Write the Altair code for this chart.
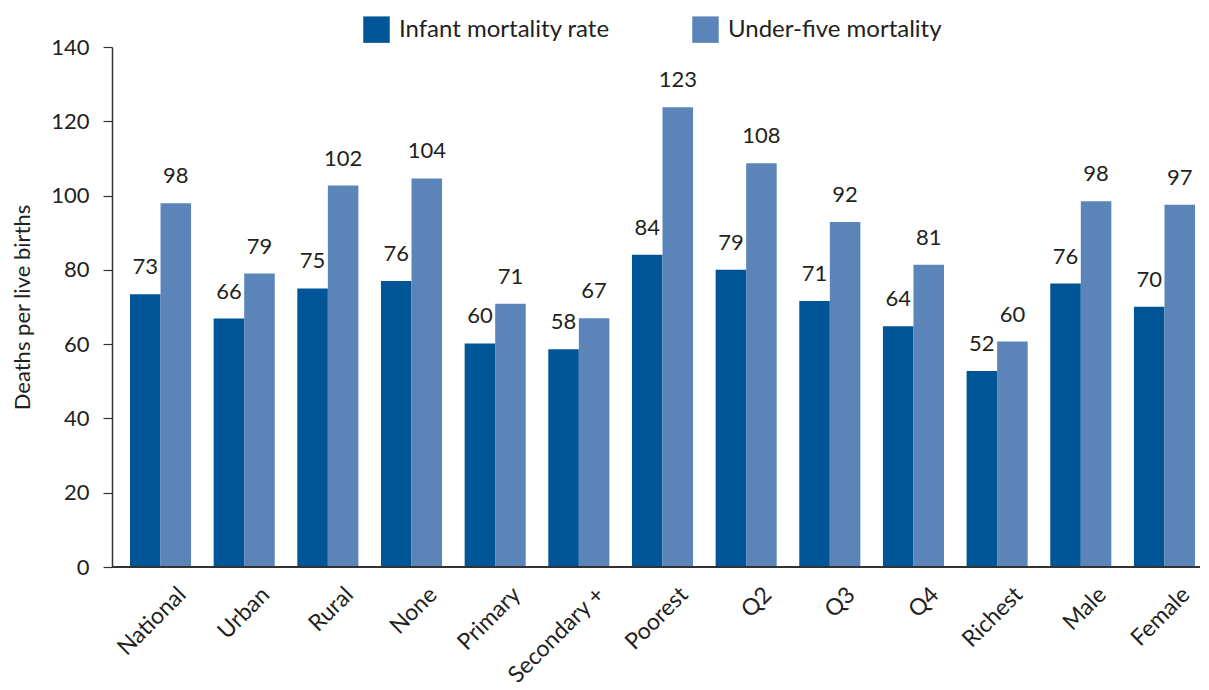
import altair as alt
import pandas as pd

categories = ["National", "Urban", "Rural", "None", "Primary", "Secondary +",
              "Poorest", "Q2", "Q3", "Q4", "Richest", "Male", "Female"]
infant = [73.4, 66.9, 75.0, 77.0, 60.2, 58.6, 84.1, 80.0, 71.6, 64.8, 52.8, 76.3, 70.1]
under5 = [97.9, 79.0, 102.7, 104.6, 70.9, 67.0, 123.8, 108.7, 92.9, 81.4, 60.7, 98.5, 97.5]
infant_labels = [73, 66, 75, 76, 60, 58, 84, 79, 71, 64, 52, 76, 70]
under5_labels = [98, 79, 102, 104, 71, 67, 123, 108, 92, 81, 60, 98, 97]
series = ["Infant mortality rate", "Under-five mortality"]
colors = ["#005596", "#5B84B8"]
y_ticks = [0, 20, 40, 60, 80, 100, 120, 140]

rows = []
for c, v, l in zip(categories, infant, infant_labels):
    rows.append({"category": c, "series": series[0], "value": v, "label": str(l)})
for c, v, l in zip(categories, under5, under5_labels):
    rows.append({"category": c, "series": series[1], "value": v, "label": str(l)})
df = pd.DataFrame(rows)

FONT = "Lato"
TXT = "#231F20"
W, H = 1088, 520

x_enc = alt.X(
    "category:N", sort=categories,
    scale=alt.Scale(range=[18, 1083], paddingInner=0.27, paddingOuter=0),
    axis=alt.Axis(title=None, labelAngle=-45, domain=False, ticks=False,
                  labelFontSize=23, labelPadding=16, labelOffset=14,
                  labelColor=TXT, labelFont=FONT, labelLimit=0),
)
xo_enc = alt.XOffset("series:N", sort=series, scale=alt.Scale(paddingInner=0))
y_enc = alt.Y(
    "value:Q", scale=alt.Scale(domain=[0, 140], nice=False),
    axis=alt.Axis(title="Deaths per live births", values=y_ticks, grid=False,
                  tickSize=9, tickColor="#333333", domainColor="#333333",
                  domainWidth=1.5, tickWidth=1.2,
                  labelFontSize=22, labelPadding=14, labelColor=TXT,
                  titleFontSize=22, titleFontWeight="normal", titleColor=TXT,
                  titlePadding=16),
)

bars = alt.Chart(df).mark_bar().encode(
    x=x_enc, xOffset=xo_enc, y=y_enc,
    color=alt.Color(
        "series:N", sort=series,
        scale=alt.Scale(domain=series, range=colors),
        legend=alt.Legend(title=None, orient="none", legendX=251, legendY=-31,
                          direction="horizontal", symbolType="square",
                          symbolSize=700, symbolStrokeWidth=0,
                          labelFontSize=24, labelColor=TXT, labelFont=FONT,
                          labelOffset=9, columnPadding=82, padding=0,
                          labelLimit=0),
    ),
)

texts = alt.Chart(df).mark_text(
    baseline="alphabetic", dy=-20, fontSize=22, color=TXT, font=FONT
).encode(x=x_enc, xOffset=xo_enc, y=y_enc, text="label:N")

baseline = alt.Chart(df).mark_rule(color="#333333", strokeWidth=1.5).encode(
    x=alt.value(0), x2=alt.value(W + 2), y=alt.value(H)
)

chart = alt.layer(bars, texts, baseline).properties(
    width=W, height=H,
    autosize=alt.AutoSizeParams(type="none"),
    padding={"left": 104, "top": 39, "right": 0, "bottom": 115},
).configure(font=FONT).configure_view(stroke=None)

chart.save("out.html", embed_options={"renderer": "svg", "actions": False})
